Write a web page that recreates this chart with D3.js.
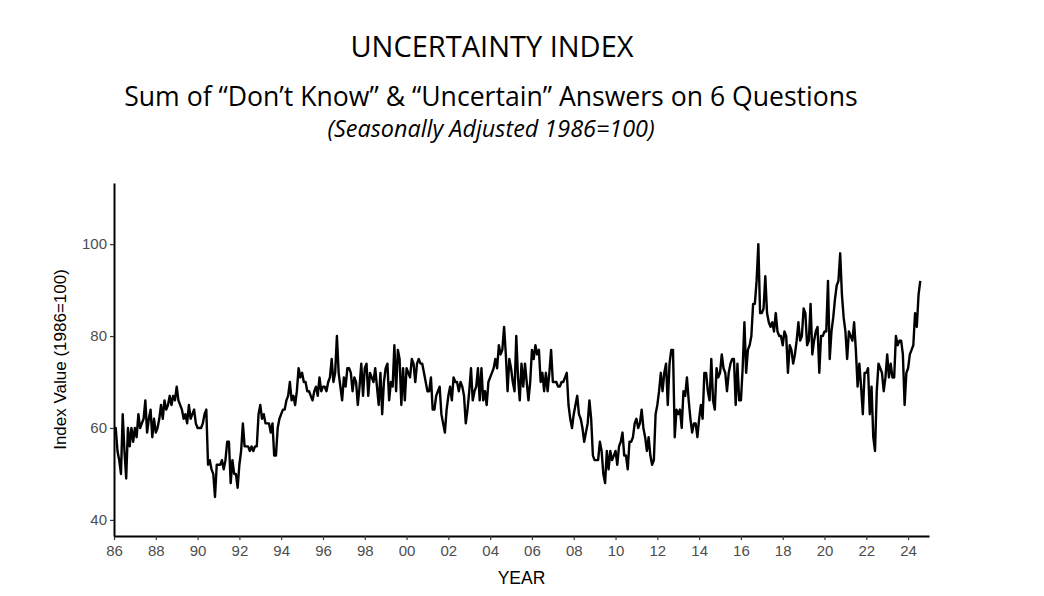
<!DOCTYPE html>
<html>
<head>
<meta charset="utf-8">
<script src="https://cdn.jsdelivr.net/npm/d3@7"></script>
<style>
  body { margin: 0; background: #fff; }
</style>
</head>
<body>
<div id="chart"></div>
<script>
// --- Data: monthly index values, Jan 1986 onward ---
const startYear = 1986;

const idx1980s = [
  60, 60, 55, 53, 50, 63, 55, 49, 60, 56, 60, 57,   // 1986
  60, 58, 63, 60, 61, 62, 66, 59, 62, 64, 58, 62,   // 1987
  59, 60, 62, 65, 62, 66, 64, 65, 67, 65, 67, 66,   // 1988
  69, 66, 65, 64, 62, 63, 61, 65, 62, 63, 64, 61    // 1989
];
const idx1990s = [
  60, 60, 60, 61, 63, 64, 52, 53, 51, 50, 45, 52,   // 1990
  52, 52, 53, 51, 53, 57, 57, 48, 53, 50, 50, 47,   // 1991
  52, 55, 61, 56, 56, 56, 55, 56, 55, 56, 56, 63,   // 1992
  65, 62, 63, 61, 61, 61, 59, 61, 54, 54, 60, 62,   // 1993
  63, 64, 64, 66, 67, 70, 66, 67, 65, 68, 73, 71,   // 1994
  72, 70, 70, 68, 68, 67, 66, 68, 69, 67, 71, 68,   // 1995
  69, 69, 68, 70, 71, 75, 70, 72, 80, 72, 69, 66,   // 1996
  71, 69, 73, 73, 72, 68, 71, 70, 65, 69, 74, 67,   // 1997
  73, 74, 67, 72, 71, 70, 73, 69, 65, 72, 63, 70,   // 1998
  73, 74, 66, 70, 69, 78, 68, 77, 75, 65, 73, 66    // 1999
];
const idx2000s = [
  73, 72, 71, 75, 74, 70, 74, 75, 74, 74, 72, 70,   // 2000
  68, 68, 71, 64, 64, 67, 68, 69, 63, 61, 59, 64,   // 2001
  67, 69, 66, 71, 70, 70, 68, 70, 69, 67, 61, 64,   // 2002
  68, 73, 66, 68, 69, 73, 66, 73, 66, 68, 65, 70,   // 2003
  71, 72, 73, 75, 73, 78, 76, 77, 82, 76, 68, 75,   // 2004
  73, 70, 68, 80, 71, 66, 74, 69, 74, 70, 66, 70,   // 2005
  77, 75, 78, 76, 77, 70, 72, 68, 72, 68, 72, 77,   // 2006
  70, 70, 70, 69, 69, 70, 70, 71, 72, 65, 62, 60,   // 2007
  63, 65, 67, 63, 62, 60, 57, 59, 61, 66, 62, 54,   // 2008
  53, 53, 53, 57, 55, 50, 48, 55, 51, 55, 53, 54    // 2009
];
const idx2010s = [
  55, 52, 56, 57, 59, 54, 54, 51, 57, 57, 58, 61,   // 2010
  62, 60, 61, 64, 60, 58, 55, 58, 54, 52, 53, 63,   // 2011
  65, 68, 72, 68, 72, 74, 65, 74, 77, 77, 58, 64,   // 2012
  63, 64, 60, 68, 67, 71, 66, 62, 59, 61, 61, 58,   // 2013
  62, 65, 62, 72, 72, 68, 66, 75, 66, 64, 73, 71,   // 2014
  72, 76, 73, 72, 68, 72, 74, 75, 75, 65, 74, 66,   // 2015
  66, 73, 83, 72, 77, 78, 80, 87, 87, 92, 100, 85,  // 2016
  85, 86, 93, 85, 83, 82, 83, 81, 85, 81, 80, 80,   // 2017
  78, 81, 80, 72, 78, 77, 74, 76, 79, 83, 79, 80,   // 2018
  86, 85, 78, 79, 87, 76, 79, 81, 82, 72, 80, 80    // 2019
];
const idx2020s = [
  81, 81, 92, 75, 81, 84, 88, 91, 92, 98, 89, 84,   // 2020
  81, 75, 81, 80, 79, 83, 77, 69, 74, 69, 63, 72,   // 2021
  72, 73, 63, 69, 58, 55, 68, 74, 73, 72, 68, 71,   // 2022
  76, 71, 74, 71, 71, 80, 78, 79, 79, 76, 65, 72,   // 2023
  73, 76, 77, 78, 85, 82, 89, 92                    // 2024 (Jan-Aug)
];

const xTickYears = d3.range(1986, 2025, 2);
const yTicks = [40, 60, 80, 100];

const titleText = "UNCERTAINTY INDEX";
const subtitleText = "Sum of \u201CDon\u2019t Know\u201D & \u201CUncertain\u201D Answers on 6 Questions";
const noteText = "(Seasonally Adjusted 1986=100)";
const xLabel = "YEAR";
const yLabel = "Index Value (1986=100)";

// --- Build monthly table ---
const series = [].concat(idx1980s, idx1990s, idx2000s, idx2010s, idx2020s)
  .map((v, i) => ({ t: startYear + i / 12, v: v }));

// --- Sizes ---
const W = 1044, H = 596;
const plotL = 114, plotR = 929, plotT = 183, plotB = 536;

const svg = d3.select("#chart")
  .append("svg")
  .attr("width", W)
  .attr("height", H);

// --- Scales ---
const x = d3.scaleLinear().domain([1986, 2025]).range([plotL, plotR]);
const y = d3.scaleLinear().domain([36.5, 113.3]).range([plotB, plotT]);

// --- Titles ---
svg.append("text")
  .attr("x", 492).attr("y", 57)
  .attr("text-anchor", "middle")
  .style("font-family", "'Open Sans', sans-serif")
  .style("font-size", "29px")
  .style("fill", "#000")
  .text(titleText);

svg.append("text")
  .attr("x", 491).attr("y", 106)
  .attr("text-anchor", "middle")
  .style("font-family", "'Open Sans', sans-serif")
  .style("font-size", "26.6px")
  .style("fill", "#000")
  .text(subtitleText);

svg.append("text")
  .attr("x", 491).attr("y", 137)
  .attr("text-anchor", "middle")
  .style("font-family", "'Open Sans', sans-serif")
  .style("font-style", "italic")
  .style("font-size", "23.4px")
  .style("fill", "#000")
  .text(noteText);

// --- Axes ---
const xAxis = svg.append("g")
  .attr("transform", `translate(0, ${plotB})`)
  .call(d3.axisBottom(x)
    .tickValues(xTickYears)
    .tickFormat(d => d3.format("02d")(d % 100))
    .tickSize(4)
    .tickSizeOuter(0)
    .tickPadding(5));

const yAxis = svg.append("g")
  .attr("transform", `translate(${plotL}, 0)`)
  .call(d3.axisLeft(y)
    .tickValues(yTicks)
    .tickSize(4)
    .tickSizeOuter(0)
    .tickPadding(3));

[xAxis, yAxis].forEach(g => {
  g.select(".domain").attr("stroke", "#000").attr("stroke-width", 2);
  g.selectAll(".tick line").attr("stroke", "#333").attr("stroke-width", 1.2);
  g.selectAll(".tick text")
    .style("font-family", "'Liberation Sans', Arial, sans-serif")
    .style("font-size", "15px")
    .style("fill", "#4d4d4d");
});

// --- Axis titles ---
svg.append("text")
  .attr("x", (plotL + plotR) / 2).attr("y", 584)
  .attr("text-anchor", "middle")
  .style("font-family", "'Liberation Sans', Arial, sans-serif")
  .style("font-size", "17.5px")
  .text(xLabel);

svg.append("text")
  .attr("transform", `translate(66, ${(plotT + plotB) / 2}) rotate(-90)`)
  .attr("text-anchor", "middle")
  .style("font-family", "'Liberation Sans', Arial, sans-serif")
  .style("font-size", "17px")
  .text(yLabel);

// --- Line ---
const line = d3.line()
  .x(d => x(d.t))
  .y(d => y(d.v));

svg.append("path")
  .datum(series)
  .attr("fill", "none")
  .attr("stroke", "#000")
  .attr("stroke-width", 2.4)
  .attr("stroke-linejoin", "round")
  .attr("d", line);
</script>
</body>
</html>
